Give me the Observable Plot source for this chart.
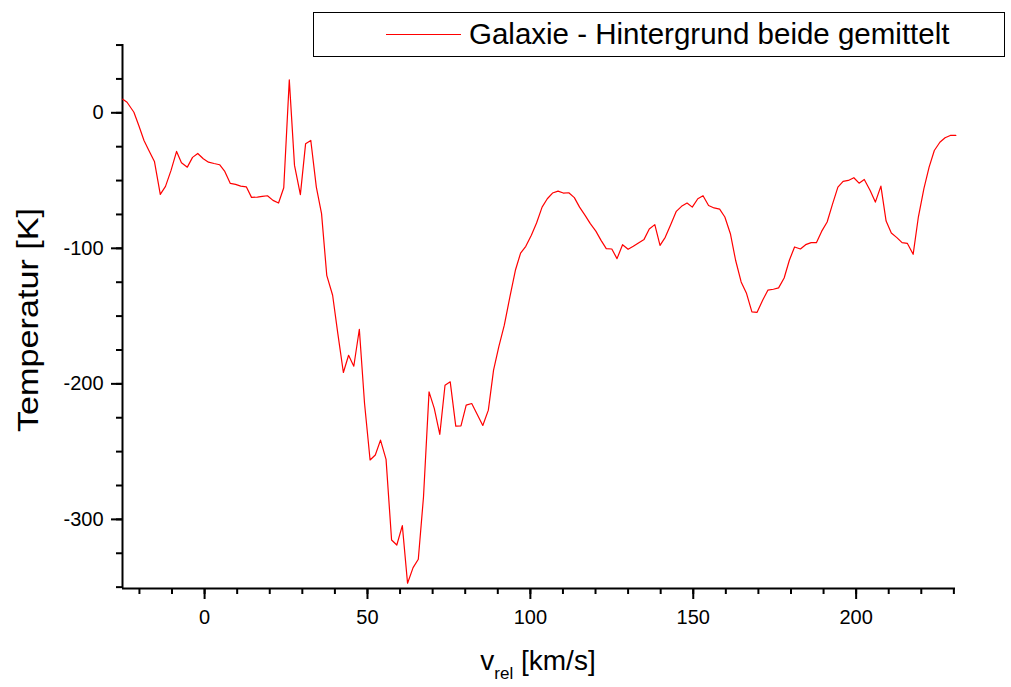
<!DOCTYPE html>
<html><head><meta charset="utf-8">
<script src="https://cdn.jsdelivr.net/npm/d3@7"></script>
<script src="https://cdn.jsdelivr.net/npm/@observablehq/plot@0.6"></script>
<style>
body{margin:0;background:#fff;font-family:"Liberation Sans",Arial,sans-serif;}
#wrap{position:relative;width:1011px;height:687px;overflow:hidden;}
#legend{position:absolute;left:313px;top:12px;width:692px;height:45px;border:1.5px solid #000;box-sizing:border-box;background:#fff;}
#legend .sw{position:absolute;left:72px;top:21px;width:75px;height:0;border-top:1.2px solid #ff0000;}
#legend .lab{position:absolute;left:155px;top:3px;font-size:29.5px;line-height:36px;color:#000;white-space:nowrap;}
</style>
</head><body>
<div id="wrap"><div id="chart"></div>
<div id="legend"><div class="sw"></div><div class="lab">Galaxie - Hintergrund beide gemittelt</div></div>
</div>
<script>
const velocity = [-25.1,-23.8,-21.7,-20.2,-18.6,-17.1,-15.4,-13.6,-12.0,-10.3,-8.6,-7.1,-5.3,-3.7,-2.1,-0.4,1.2,2.9,4.6,6.2,7.9,9.5,11.1,12.8,14.4,16.2,17.7,19.3,21.0,22.7,24.3,26.0,27.6,29.4,31.0,32.6,34.3,35.9,37.5,39.3,40.9,42.6,44.2,45.8,47.5,49.1,50.8,52.4,54.0,55.7,57.4,59.0,60.7,62.3,64.0,65.6,67.2,68.9,70.5,72.2,73.8,75.4,77.1,78.7,80.3,82.0,85.4,87.1,88.7,90.3,92.0,93.7,95.4,97.0,98.6,100.3,101.9,103.6,105.2,106.8,108.5,110.1,111.8,113.5,115.1,116.8,118.4,120.1,121.7,123.3,125.0,126.6,128.3,130.0,131.6,133.3,134.9,136.5,138.2,139.8,141.4,143.1,144.8,146.4,148.1,149.7,151.4,153.0,154.7,156.4,158.1,159.7,161.4,163.0,164.7,166.3,168.0,169.6,171.3,172.9,174.6,176.2,177.9,179.5,181.1,182.9,184.5,186.2,187.8,189.4,191.1,192.7,194.4,196.0,197.6,199.3,200.9,202.5,204.3,205.9,207.6,209.2,210.8,212.5,214.1,215.7,217.5,219.1,220.8,222.4,224.0,225.7,227.3,228.9,230.6];
const temperature = [10.0,7.8,0.4,-9.4,-20.4,-27.8,-35.9,-60.2,-54.3,-42.5,-28.5,-36.8,-40.1,-32.9,-30,-33.9,-36.4,-37.4,-38.3,-43.3,-52.1,-52.8,-54.1,-54.6,-62.4,-62.2,-61.7,-61.2,-64.6,-66.6,-55.3,24.3,-38.8,-60.4,-22.9,-20.4,-54.8,-74.4,-119.9,-134.6,-162.9,-191.6,-178.9,-187,-159.7,-214.5,-256.2,-252.5,-241.5,-255.7,-315.2,-318.9,-304.6,-347.1,-335.6,-329.4,-283.3,-205.9,-218.1,-237.3,-201,-198.5,-231.2,-231,-215.7,-214.5,-230.7,-219.4,-189.9,-172.7,-156.7,-136,-116.2,-103.5,-98.5,-90.4,-81.3,-69.6,-63.4,-59.2,-57.8,-59.2,-59,-62.6,-69.6,-75.7,-81.8,-87.3,-94.1,-100.2,-100.5,-107.6,-97.3,-100.7,-98.5,-95.8,-93.4,-85.8,-82.5,-97.8,-91.9,-82.5,-72.7,-69,-66.6,-69.6,-63.4,-61.2,-68.4,-70.2,-71.1,-76.9,-89.2,-108.8,-124.8,-132.9,-146.9,-147.2,-138.3,-130.9,-130.2,-129.2,-121.9,-108.8,-99,-100.5,-97.3,-95.8,-95.8,-87.5,-80.6,-67.8,-54.8,-50.6,-49.9,-47.9,-51.9,-49.2,-57.3,-65.9,-54.1,-79.9,-88.7,-92.1,-95.8,-96.3,-104.4,-76.9,-56,-40.1,-27.8,-21.7,-18.4,-16.7,-16.7];
const xMajorTicks = [0, 50, 100, 150, 200];
const xMinorTicks = [-20, -10, 0, 10, 20, 30, 40, 50, 60, 70, 80, 90, 100, 110, 120, 130, 140, 150, 160, 170, 180, 190, 200, 210, 220, 230];
const yMajorTicks = [-300, -200, -100, 0];
const yMinorTicks = [-350, -325, -300, -275, -250, -225, -200, -175, -150, -125, -100, -75, -50, -25, 0, 25, 50];
const xDomain = [-25.2, 230.5];
const yDomain = [-351, 50.4];
const legendLabel = "Galaxie - Hintergrund beide gemittelt";
const yTitle = "Temperatur [K]";

const data = velocity.map((v, i) => ({v, t: temperature[i]}));
const fmt = d => String(d);
const blank = () => "";

const chart = Plot.plot({
  width: 1011, height: 687,
  marginLeft: 122, marginRight: 56, marginTop: 44, marginBottom: 99,
  x: {domain: xDomain, label: null},
  y: {domain: yDomain, label: null},
  style: {fontFamily: "'Liberation Sans', Arial, sans-serif", background: "#fff", color: "#000", overflow: "visible"},
  marks: [
    Plot.axisX(xMinorTicks, {tickSize: 6, strokeWidth: 2, tickFormat: blank, label: null}),
    Plot.axisX(xMajorTicks, {tickSize: 11, strokeWidth: 2, tickPadding: 10, fontSize: 20, tickFormat: fmt, label: null}),
    Plot.axisY(yMinorTicks, {tickSize: 6, strokeWidth: 2, tickFormat: blank, label: null}),
    Plot.axisY(yMajorTicks, {tickSize: 11, strokeWidth: 2, tickPadding: 8, fontSize: 20, tickFormat: fmt, label: null}),
    Plot.ruleY([yDomain[0]], {stroke: "#000", strokeWidth: 2}),
    Plot.ruleX([xDomain[0]], {stroke: "#000", strokeWidth: 2}),
    Plot.line(data, {x: "v", y: "t", stroke: "#ff0000", strokeWidth: 1.2})
  ]
});
document.getElementById("chart").appendChild(chart);

const svg = d3.select(chart);
const xt = svg.append("text")
  .attr("x", 538).attr("y", 670)
  .attr("text-anchor", "middle")
  .attr("font-size", 28)
  .attr("fill", "#000");
xt.append("tspan").text("v");
xt.append("tspan").attr("dy", 9).attr("font-size", 17).text("rel");
xt.append("tspan").attr("dy", -9).text(" [km/s]");

svg.append("text")
  .attr("transform", "translate(38,320) rotate(-90)")
  .attr("text-anchor", "middle")
  .attr("font-size", 29)
  .attr("textLength", 224)
  .attr("lengthAdjust", "spacingAndGlyphs")
  .attr("fill", "#000")
  .text(yTitle);
</script>
</body></html>
